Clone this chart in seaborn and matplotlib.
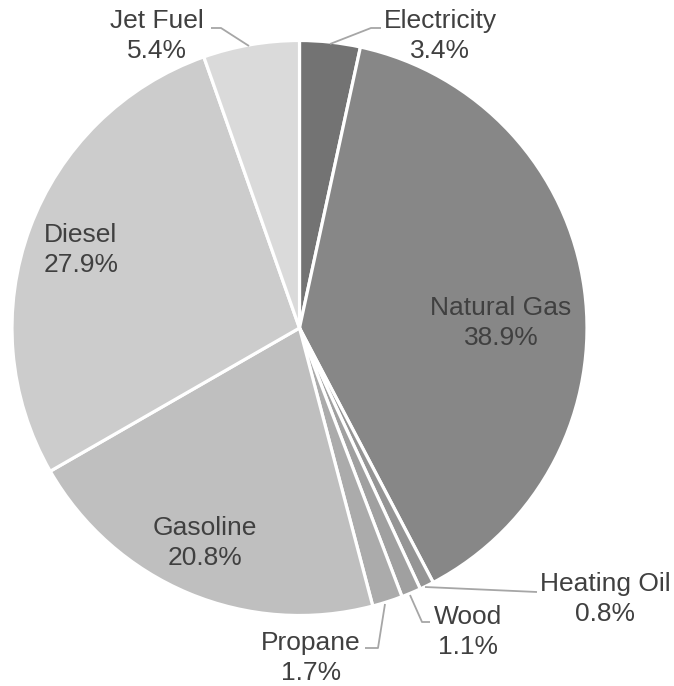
import matplotlib
matplotlib.use("Agg")
import matplotlib.pyplot as plt
import seaborn as sns
import numpy as np

categories = ["Electricity", "Natural Gas", "Heating Oil", "Wood", "Propane",
              "Gasoline", "Diesel", "Jet Fuel"]
values = [3.4, 38.9, 0.8, 1.1, 1.7, 20.8, 27.9, 5.4]

sns.set_theme(style="white")
plt.rcParams['font.family'] = ['Liberation Sans', 'DejaVu Sans']

colors = ["#737373", "#878787", "#959595", "#a0a0a0", "#ababab",
          "#bfbfbf", "#cccccc", "#dadada"]

W, H = 674, 686
CX, CY, R = 299.5, 328.0, 287.5

fig = plt.figure(figsize=(W / 100, H / 100), dpi=100)
ax = fig.add_axes([0, 0, 1, 1])

def px(x, y):
    return ((x - CX) / R, (CY - y) / R)

wedges, _ = ax.pie(values, colors=colors, startangle=90, counterclock=False,
                   radius=1.0,
                   wedgeprops=dict(edgecolor="white", linewidth=2.3))

ax.set_xlim(-CX / R, (W - CX) / R)
ax.set_ylim(-(H - CY) / R, CY / R)
ax.set_aspect("auto")
ax.axis("off")

txt_color = "#404040"
line_color = "#a6a6a6"
fs = 19

# label block centres (pixels)
label_pos = {
    "Electricity": (440, 36),
    "Natural Gas": (501, 323),
    "Heating Oil": (605, 599),
    "Wood": (468, 632),
    "Propane": (311, 658),
    "Gasoline": (205, 543),
    "Diesel": (81, 250),
    "Jet Fuel": (157, 36),
}

for cat, val in zip(categories, values):
    x, y = px(*label_pos[cat])
    ax.text(x, y, f"{cat}\n{val:.1f}%", ha="center", va="center",
            fontsize=fs, color=txt_color, linespacing=1.3)

# leader lines (pixel polylines)
leaders = {
    "Electricity": [(330, 44), (371, 28), (381, 28)],
    "Jet Fuel": [(249, 46), (221, 28), (211, 28)],
    "Heating Oil": [(425, 587), (537, 592)],
    "Wood": [(410, 595), (422, 622), (430, 622)],
    "Propane": [(385, 604), (378, 648), (365, 648)],
}
for cat, pts in leaders.items():
    xy = np.array([px(a, b) for a, b in pts])
    ax.plot(xy[:, 0], xy[:, 1], color=line_color, linewidth=1.3,
            solid_capstyle="butt")

fig.savefig("out.png", dpi=100, facecolor="white")
